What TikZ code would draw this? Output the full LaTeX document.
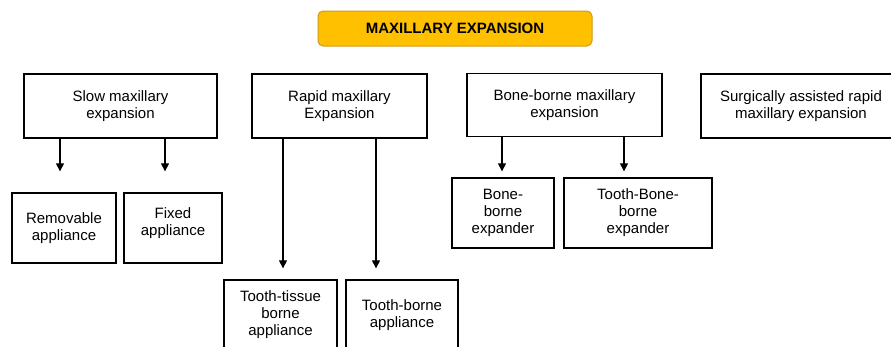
\documentclass[tikz,border=0pt]{standalone}
\usepackage{fontspec}
\setmainfont{Liberation Sans}
\usetikzlibrary{arrows.meta}
\definecolor{titlefill}{HTML}{FFC000}
\definecolor{titleedge}{HTML}{D29A1E}
\begin{document}
\begin{tikzpicture}[x=1pt,y=-1pt,
  box/.style={draw=black, line width=1.3pt, align=center, inner sep=2pt,
    font=\fontsize{15}{17}\selectfont},
  ttl/.style={draw=titleedge, fill=titlefill, line width=1pt, rounded corners=5pt,
    font=\fontsize{15}{17}\selectfont\bfseries},
  arr/.style={line width=1.1pt, -{Triangle[width=8pt,length=8pt]}},
  ln/.style={line width=1.1pt}]
\clip (0,0) rectangle (891,346);
\fill[white] (0,0) rectangle (891,346);
\node[ttl, minimum width=274pt, minimum height=35pt] (title) at (455,28.5) {MAXILLARY EXPANSION};
\node[box, minimum width=193pt, minimum height=64pt] (slow) at (120.5,106) {Slow maxillary\\expansion};
\node[box, minimum width=175pt, minimum height=64pt] (rapid) at (339.5,106) {Rapid maxillary\\Expansion};
\node[box, minimum width=195pt, minimum height=63pt] (bone) at (564.5,105) {Bone-borne maxillary\\expansion};
\node[box, minimum width=200pt, minimum height=64pt] (surg) at (801,106) {Surgically assisted rapid\\maxillary expansion};
\node[box, minimum width=104pt, minimum height=70pt] (rem) at (64,228) {Removable\\appliance};
\node[box, minimum width=98pt, minimum height=70pt, text depth=12pt] (fix) at (173,228) {Fixed\\appliance};
\node[box, minimum width=102pt, minimum height=70pt] (bexp) at (503,213) {Bone-\\borne\\expander};
\node[box, minimum width=148pt, minimum height=70pt] (tbexp) at (638,213) {Tooth-Bone-\\borne\\expander};
\node[box, minimum width=113pt, minimum height=70pt] (tt) at (280.5,315) {Tooth-tissue\\borne\\appliance};
\node[box, minimum width=112pt, minimum height=70pt] (tb) at (402,315) {Tooth-borne\\appliance};
\coordinate (a1) at (60,0);
\coordinate (a2) at (165,0);
\coordinate (a3) at (283,0);
\coordinate (a4) at (376,0);
\coordinate (a5) at (502,0);
\coordinate (a6) at (624,0);
\draw[arr, shorten >=21pt] (slow.south -| a1) -- (rem.north -| a1);
\draw[arr, shorten >=21pt] (slow.south -| a2) -- (fix.north -| a2);
\draw[arr, shorten >=11pt] (rapid.south -| a3) -- (tt.north -| a3);
\draw[arr, shorten >=11pt] (rapid.south -| a4) -- (tb.north -| a4);
\draw[arr, shorten >=6pt] (bone.south -| a5) -- (bexp.north -| a5);
\draw[arr, shorten >=6pt] (bone.south -| a6) -- (tbexp.north -| a6);
\end{tikzpicture}
\end{document}
